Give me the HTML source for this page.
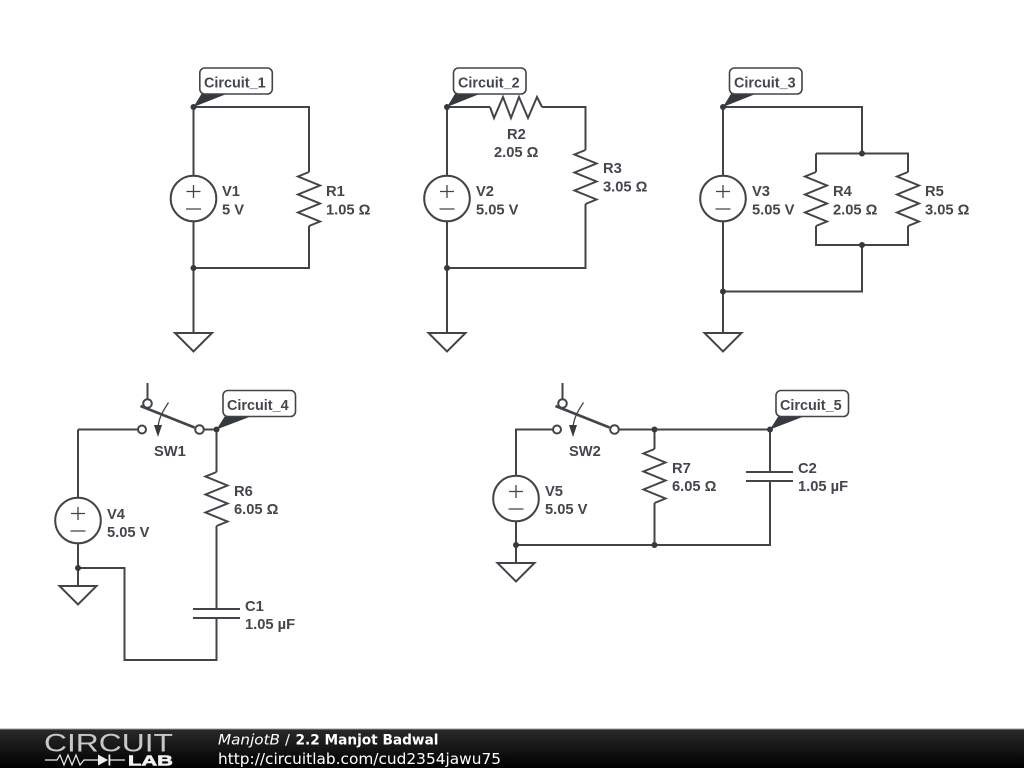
<!DOCTYPE html>
<html><head><meta charset="utf-8"><style>
html,body{margin:0;padding:0;background:#fff;width:1024px;height:768px;overflow:hidden}
svg{display:block}
.l{font:bold 14.7px "Liberation Sans",sans-serif;fill:#43474c}
.c{font:bold 14.4px "Liberation Sans",sans-serif;fill:#43474c}
.w{fill:none;stroke:#41454a;stroke-width:2;stroke-linejoin:miter}
.n{fill:none;stroke:#41454a;stroke-width:1.3}
.b{fill:none;stroke:#41454a;stroke-width:2.6}
.t{fill:#fff;stroke:#41454a;stroke-width:1.6}
.d{fill:#36393d}
</style></head><body>
<svg width="1024" height="768" viewBox="0 0 1024 768" xmlns="http://www.w3.org/2000/svg">
<defs>
<linearGradient id="g" x1="0" y1="0" x2="0" y2="1"><stop offset="0" stop-color="#2a2a2a"/><stop offset="1" stop-color="#000"/></linearGradient>
<g id="r"><polyline class="w" points="0,0 -11,4.500 11,13.500 -11,22.500 11,31.500 -11,40.500 11,49.500 0,54"/></g>
<g id="v"><circle class="w" r="22.800" cx="0" cy="0"/><path class="n" stroke-width="1.500" d="M-7,-7H7M0,-13.500V-0.500M-7.500,10.500H7.500"/></g>
<g id="gnd"><polygon class="w" points="-18.500,0 18.500,0 0,18.500"/></g>
<g id="sw"><path class="w" d="M147.500,383V399"/><path class="b" d="M140.500,406L194.500,427.500"/><path class="n" d="M168.500,402.500C163,411 158.500,418 158,428"/><polygon class="d" points="154,425 162,425 158,437"/><circle class="w" fill="#fff" style="fill:#fff" cx="142" cy="429.500" r="4"/><circle class="w" style="fill:#fff" cx="199.500" cy="429.500" r="4.300"/><circle class="w" style="fill:#fff" cx="147.500" cy="403.500" r="4.300"/></g>
</defs>

<!-- Circuit 1 -->
<path class="w" d="M193.500,107V176M193.500,221V333M193.500,107H309V172M309,226V268H193.500"/>
<use href="#r" x="309" y="172"/><use href="#v" x="193.500" y="198.500"/><use href="#gnd" x="193.500" y="333"/>
<circle class="d" cx="193.500" cy="107" r="3"/><circle class="d" cx="193.500" cy="268" r="3"/>
<polygon class="d" points="193.500,107 202,93 229,93"/>
<rect class="t" x="199.800" y="68" width="72.500" height="26" rx="5"/>
<text class="c" x="204" y="87.500">Circuit_1</text>
<text class="l" x="222" y="196">V1</text><text class="l" x="222" y="214.500">5 V</text>
<text class="l" x="326" y="196">R1</text><text class="l" x="326" y="214.500">1.05 Ω</text>

<!-- Circuit 2 -->
<path class="w" d="M447,107V176M447,221V333M447,107H490M542,107H585.500V150M585.500,204V268H447"/>
<polyline class="w" points="490,107 494,118 503,97 511,118 519,97 528,118 537,97 542,107"/>
<use href="#r" x="585.500" y="150"/><use href="#v" x="447" y="198.500"/><use href="#gnd" x="447" y="333"/>
<circle class="d" cx="447" cy="107" r="3"/><circle class="d" cx="447" cy="268" r="3"/>
<polygon class="d" points="447,107 455.500,93 482,93"/>
<rect class="t" x="453.500" y="68" width="72.500" height="26" rx="5"/>
<text class="c" x="458" y="87.500">Circuit_2</text>
<text class="l" x="476" y="196">V2</text><text class="l" x="476" y="214.500">5.05 V</text>
<text class="l" x="507" y="139">R2</text><text class="l" x="494" y="157">2.05 Ω</text>
<text class="l" x="603" y="173">R3</text><text class="l" x="603" y="191.500">3.05 Ω</text>

<!-- Circuit 3 -->
<path class="w" d="M723,107V176M723,221V333M723,107H862V153.500M816,153.500H908V172M816,153.500V172M816,226V245H908V226M862,245V291.500H723"/>
<use href="#r" x="816" y="172"/><use href="#r" x="908" y="172"/><use href="#v" x="723" y="198.500"/><use href="#gnd" x="723" y="333"/>
<circle class="d" cx="723" cy="107" r="3"/><circle class="d" cx="862" cy="153.500" r="3"/><circle class="d" cx="862" cy="245" r="3"/><circle class="d" cx="723" cy="291.500" r="3"/>
<polygon class="d" points="723,107 731.500,93 758,93"/>
<rect class="t" x="729.500" y="68" width="72.500" height="26" rx="5"/>
<text class="c" x="734" y="87.500">Circuit_3</text>
<text class="l" x="752" y="196">V3</text><text class="l" x="752" y="214.500">5.05 V</text>
<text class="l" x="833" y="196">R4</text><text class="l" x="833" y="214.500">2.05 Ω</text>
<text class="l" x="925" y="196">R5</text><text class="l" x="925" y="214.500">3.05 Ω</text>

<!-- Circuit 4 -->
<path class="w" d="M78,429.500H138M203.500,429.500H216.500M78,429.500V498M78,543V586M216.500,429.500V472M216.500,526V609M216.500,618V660H124.500V568H78"/>
<use href="#sw"/>
<path class="w" d="M193,609H240M193,618H240"/>
<use href="#r" x="216.500" y="472"/><use href="#v" x="78" y="520.500"/><use href="#gnd" x="78" y="586"/>
<circle class="d" cx="216.500" cy="429.500" r="3"/><circle class="d" cx="78" cy="568" r="3"/>
<polygon class="d" points="216.500,429.500 225,416 252,416"/>
<rect class="t" x="223" y="390.500" width="72.500" height="26" rx="5"/>
<text class="c" x="227" y="410">Circuit_4</text>
<text class="l" x="154" y="456">SW1</text>
<text class="l" x="107" y="519">V4</text><text class="l" x="107" y="537">5.05 V</text>
<text class="l" x="234" y="496">R6</text><text class="l" x="234" y="514">6.05 Ω</text>
<text class="l" x="245" y="611">C1</text><text class="l" x="245" y="629">1.05 µF</text>

<!-- Circuit 5 -->
<path class="w" d="M553,429.500H516V476M516,521V563M618.500,429.500H770M654.500,429.500V449M654.500,503V545M516,545H770V481M770,429.500V472"/>
<use href="#sw" x="415"/>
<path class="w" d="M746,472H793M746,481H793"/>
<use href="#r" x="654.500" y="449"/><use href="#v" x="516" y="498.500"/><use href="#gnd" x="516" y="563"/>
<circle class="d" cx="654.500" cy="429.500" r="3"/><circle class="d" cx="770" cy="429.500" r="3"/><circle class="d" cx="516" cy="545" r="3"/><circle class="d" cx="654.500" cy="545" r="3"/>
<polygon class="d" points="770,429.500 778.500,416 805,416"/>
<rect class="t" x="776" y="390.500" width="72.500" height="26" rx="5"/>
<text class="c" x="780" y="410">Circuit_5</text>
<text class="l" x="569" y="456">SW2</text>
<text class="l" x="545" y="496">V5</text><text class="l" x="545" y="514">5.05 V</text>
<text class="l" x="672" y="473">R7</text><text class="l" x="672" y="491">6.05 Ω</text>
<text class="l" x="798" y="473">C2</text><text class="l" x="798" y="491">1.05 µF</text>

<!-- Footer -->
<rect x="0" y="729" width="1024" height="39" fill="url(#g)"/>
<rect x="0" y="728.500" width="1024" height="1" fill="#999"/>
<text x="44" y="751.500" font-family="'Liberation Sans',sans-serif" font-size="25" textLength="129" lengthAdjust="spacingAndGlyphs" fill="#c8c8c8">CIRCUIT</text>
<path d="M45,760H57L60,755L64,765L68,755L72,765L76,755L80,765L84,760H98M110,760H125" fill="none" stroke="#eee" stroke-width="1.200"/>
<polygon points="98,754.500 98,765.500 108,760" fill="#eee"/><rect x="108.500" y="754.500" width="1.800" height="11" fill="#eee"/>
<text x="128" y="765.500" font-family="'Liberation Sans',sans-serif" font-weight="bold" font-size="14.500" textLength="45" lengthAdjust="spacingAndGlyphs" fill="#f2f2f2" stroke="#f2f2f2" stroke-width="0.600">LAB</text>
<text x="218" y="744.500" font-family="'DejaVu Sans',sans-serif" font-style="italic" font-size="14.600" fill="#fff" textLength="62" lengthAdjust="spacingAndGlyphs">ManjotB</text>
<text x="285" y="744.500" font-family="'DejaVu Sans',sans-serif" font-size="14.600" fill="#fff">/</text>
<text x="295.500" y="744.500" font-family="'DejaVu Sans',sans-serif" font-weight="bold" font-size="14" fill="#fff" textLength="143" lengthAdjust="spacingAndGlyphs">2.2 Manjot Badwal</text>
<text x="218" y="764" font-family="'DejaVu Sans',sans-serif" font-size="15.300" fill="#fff" textLength="283" lengthAdjust="spacingAndGlyphs">http://circuitlab.com/cud2354jawu75</text>
</svg>
</body></html>
